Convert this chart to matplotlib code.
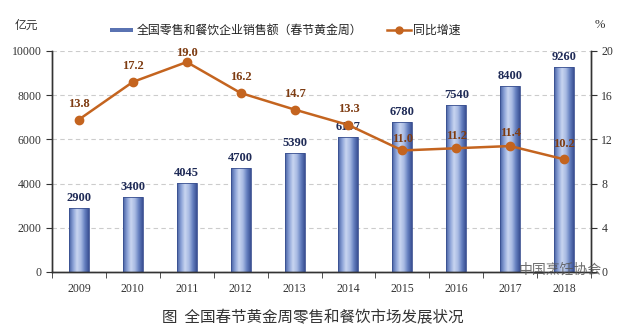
import matplotlib
matplotlib.use("Agg")
import matplotlib.pyplot as plt
import numpy as np
from matplotlib.colors import LinearSegmentedColormap
from matplotlib.lines import Line2D
from matplotlib.patches import Rectangle

years = ["2009", "2010", "2011", "2012", "2013", "2014", "2015", "2016", "2017", "2018"]
sales = [2900, 3400, 4045, 4700, 5390, 6107, 6780, 7540, 8400, 9260]
growth = [13.8, 17.2, 19.0, 16.2, 14.7, 13.3, 11.0, 11.2, 11.4, 10.2]
left_ticks = [0, 2000, 4000, 6000, 8000, 10000]
right_ticks = [0, 4, 8, 12, 16, 20]
bar_name = "全国零售和餐饮企业销售额（春节黄金周）"
line_name = "同比增速"
caption = "图  全国春节黄金周零售和餐饮市场发展状况"
growth_label_offsets = [16, 16, 9, 16, 16, 16, 11, 12, 13, 15]

CJK = ["Noto Sans CJK SC", "DejaVu Sans"]
SERIF = ["Liberation Serif", "DejaVu Serif"]

fig = plt.figure(figsize=(6.25, 3.32), dpi=100)
fig.patch.set_facecolor("white")
ax = fig.add_axes([52/625, 1-272/332, (591-52)/625, (272-51)/332])
ax2 = ax.twinx()

x = np.arange(len(years))
bw = 0.37
cmap = LinearSegmentedColormap.from_list(
    "cyl", ["#4660a2", "#8aa1d6", "#c8d5f0", "#a9bbe3", "#6680c0", "#3a5093"])
grad = np.linspace(0, 1, 64).reshape(1, -1)

bars = ax.bar(x, sales, width=bw, facecolor="none", edgecolor="#3a5090",
              linewidth=0.6, zorder=3)
for b in bars:
    im = ax.imshow(grad, cmap=cmap, aspect="auto", zorder=2.5,
                   extent=[b.get_x(), b.get_x() + b.get_width(), 0, b.get_height()])
    im.set_clip_path(b)

for xi, v in zip(x, sales):
    ax.annotate(f"{v}", (xi, v), xytext=(0, 4), textcoords="offset pixels",
                ha="center", va="bottom", fontsize=9, fontweight="bold",
                family=SERIF, color="#1f2b57", zorder=6)

ax.set_xlim(-0.5, len(years) - 0.5)
ax.set_ylim(0, 10000)
ax.set_yticks(left_ticks)
ax.set_xticks(x)
ax.set_xticklabels(years)
ax.set_xticks(np.arange(len(years) + 1) - 0.5, minor=True)
ax.tick_params(axis="x", which="major", length=0, pad=8, labelsize=8.5, colors="#333333")
ax.tick_params(axis="x", which="minor", length=4, direction="out", color="#333333")
ax.tick_params(axis="y", length=4, direction="out", labelsize=8.5, colors="#333333")
for lab in ax.get_xticklabels() + ax.get_yticklabels():
    lab.set_family(SERIF)
ax.grid(axis="y", linestyle=(0, (4, 3)), color="#cccccc", linewidth=0.8, zorder=0)
ax.set_axisbelow(True)

ax2.plot(x, growth, color="#c4641f", linewidth=1.8, marker="o", markersize=6,
         markerfacecolor="#c4641f", markeredgecolor="#c4641f", zorder=5)
ax2.set_ylim(0, 20)
ax2.set_yticks(right_ticks)
ax2.tick_params(axis="y", length=4, direction="out", labelsize=8.5, colors="#333333")
for lab in ax2.get_yticklabels():
    lab.set_family(SERIF)
for xi, v, off in zip(x, growth, growth_label_offsets):
    ax2.annotate(f"{v:.1f}", (xi, v), xytext=(0, off), textcoords="offset pixels",
                 ha="center", va="center", fontsize=9, fontweight="bold",
                 family=SERIF, color="#7e3c12", zorder=7)

for a in (ax, ax2):
    a.spines["top"].set_visible(False)
    for s in ("left", "right", "bottom"):
        a.spines[s].set_color("#333333")
        a.spines[s].set_linewidth(1.0)
ax.set_zorder(1)
ax2.set_zorder(2)
ax2.patch.set_visible(False)

# axis unit labels
fig.text(26/625, 1-25/332, "亿元", family=CJK, fontsize=8.5, color="#333333",
         ha="center", va="center")
fig.text(600/625, 1-25/332, "%", family=SERIF, fontsize=9, color="#333333",
         ha="center", va="center")

# legend
fig.add_artist(Rectangle((110/625, 1-32/332), 23/625, 4/332, transform=fig.transFigure,
                         facecolor="#5a73b2", edgecolor="none"))
fig.text(137/625, 1-30/332, bar_name, family=CJK, fontsize=8.6, color="#222222",
         ha="left", va="center")
fig.add_artist(Line2D([387/625, 411/625], [1-30/332, 1-30/332], transform=fig.transFigure,
                      color="#c4641f", linewidth=1.8))
fig.add_artist(Line2D([399/625], [1-30/332], transform=fig.transFigure,
                      color="#c4641f", marker="o", markersize=5, linestyle="none"))
fig.text(413/625, 1-30/332, line_name, family=CJK, fontsize=8.6, color="#222222",
         ha="left", va="center")

# watermark
fig.text(560/625, 1-270/332, "中国烹饪协会", family=CJK, fontsize=10, color="#555555",
         ha="center", va="center", alpha=0.85, zorder=10)

# caption
fig.text(313/625, 1-318/332, caption, family=CJK, fontsize=11.2, color="#333333",
         ha="center", va="center")

fig.savefig("out.png", dpi=100, facecolor="white")
